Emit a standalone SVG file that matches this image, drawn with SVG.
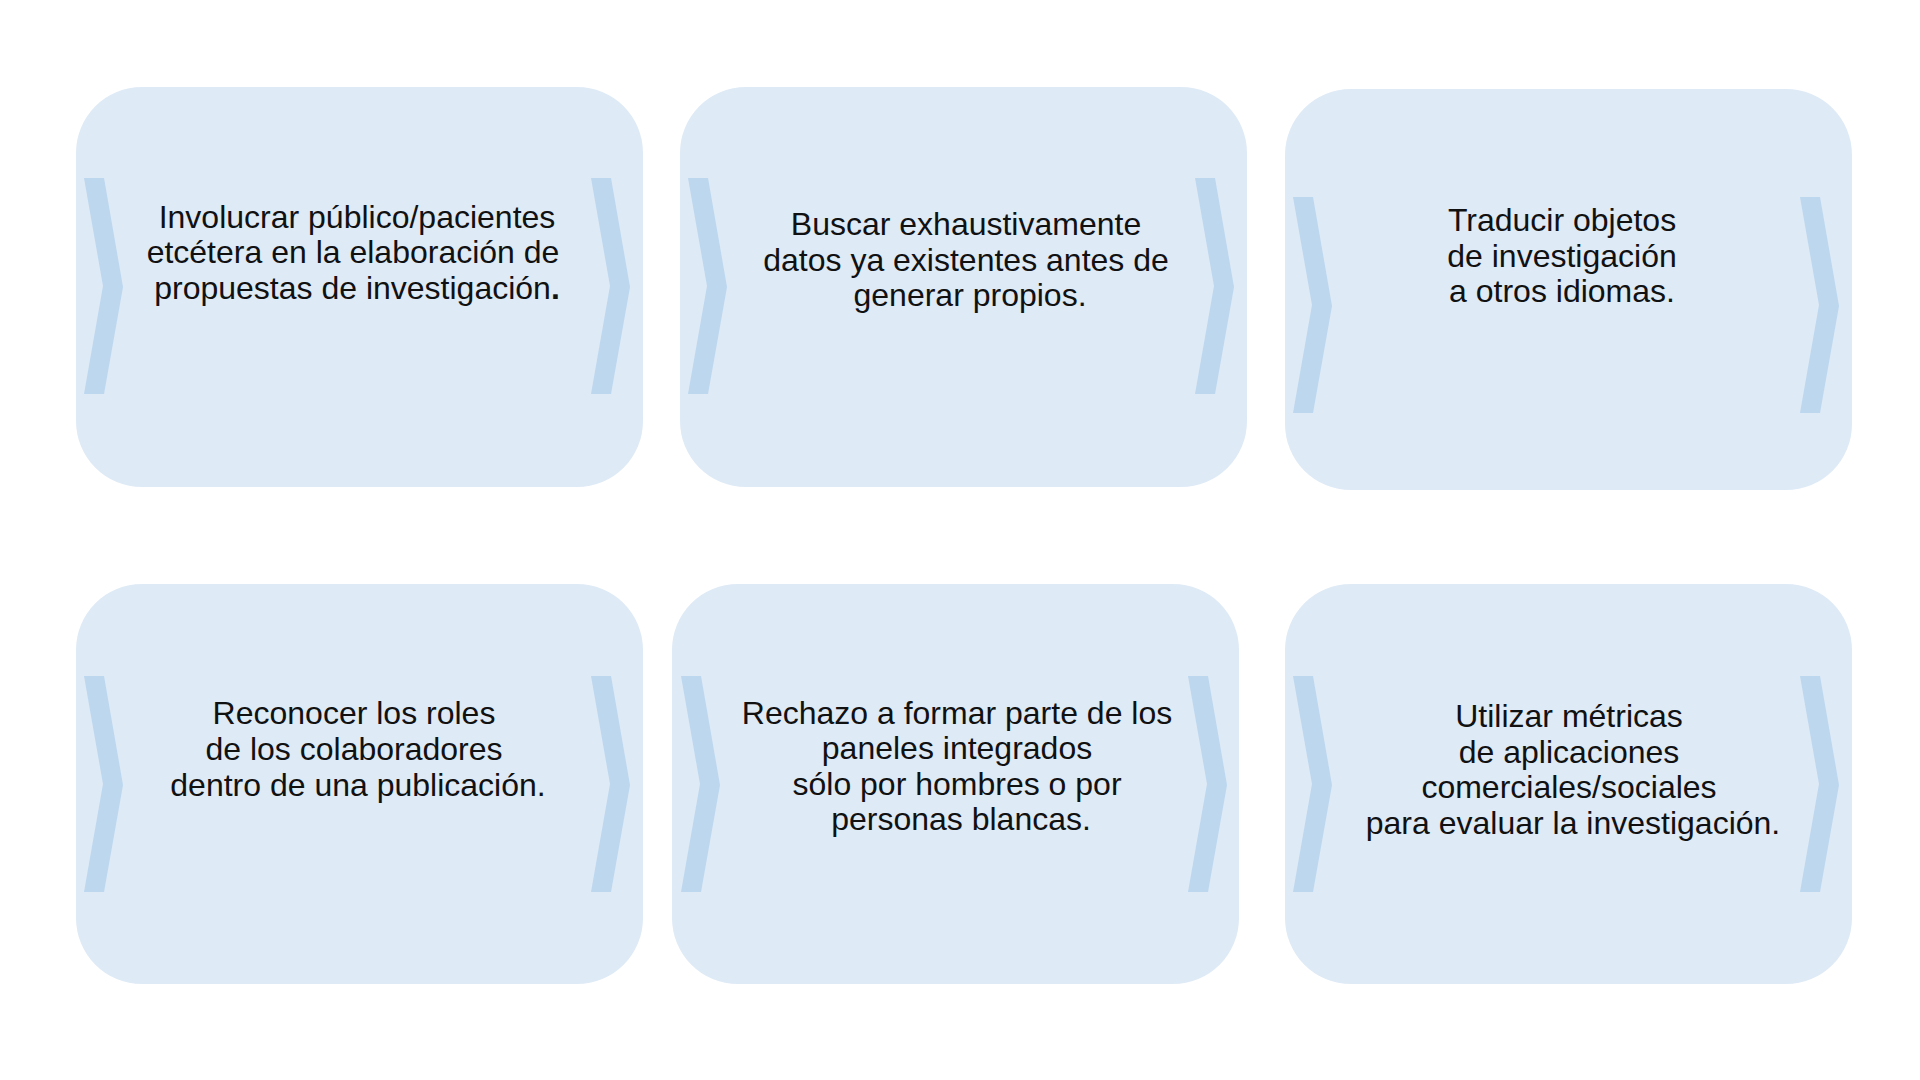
<svg xmlns="http://www.w3.org/2000/svg" xmlns:xlink="http://www.w3.org/1999/xlink" width="1920" height="1080" viewBox="0 0 1920 1080">
<style>
.box{fill:#DEEAF6;}
.chev{fill:#BDD7EE;}
.t{font-family:"Liberation Sans",Arial,sans-serif;font-size:32px;fill:#111111;text-anchor:middle;}
</style>
<defs>
<polygon id="chev" class="chev" points="0,0 20,0 39,109 20,216 0,216 19,108"/>
</defs>
<rect width="1920" height="1080" fill="#FFFFFF"/>
<g id="node1">
<rect class="box" x="76" y="87" width="567" height="400" rx="66" ry="66"/>
<use xlink:href="#chev" x="84" y="178"/>
<use xlink:href="#chev" x="591" y="178"/>
<text class="t" x="357" y="228">Involucrar público/pacientes</text>
<text class="t" x="353" y="263">etcétera en la elaboración de</text>
<text class="t" x="357" y="299">propuestas de investigación<tspan font-weight="bold">.</tspan></text>
</g>
<g id="node2">
<rect class="box" x="680" y="87" width="567" height="400" rx="66" ry="66"/>
<use xlink:href="#chev" x="688" y="178"/>
<use xlink:href="#chev" x="1195" y="178"/>
<text class="t" x="966" y="235">Buscar exhaustivamente</text>
<text class="t" x="966" y="271">datos ya existentes antes de</text>
<text class="t" x="970" y="306">generar propios.</text>
</g>
<g id="node3">
<rect class="box" x="1285" y="89" width="567" height="401" rx="66" ry="66"/>
<use xlink:href="#chev" x="1293" y="197"/>
<use xlink:href="#chev" x="1800" y="197"/>
<text class="t" x="1562" y="231">Traducir objetos</text>
<text class="t" x="1562" y="267">de investigación</text>
<text class="t" x="1562" y="302">a otros idiomas.</text>
</g>
<g id="node4">
<rect class="box" x="76" y="584" width="567" height="400" rx="66" ry="66"/>
<use xlink:href="#chev" x="84" y="676"/>
<use xlink:href="#chev" x="591" y="676"/>
<text class="t" x="354" y="724">Reconocer los roles</text>
<text class="t" x="354" y="760">de los colaboradores</text>
<text class="t" x="358" y="796">dentro de una publicación.</text>
</g>
<g id="node5">
<rect class="box" x="672" y="584" width="567" height="400" rx="66" ry="66"/>
<use xlink:href="#chev" x="681" y="676"/>
<use xlink:href="#chev" x="1188" y="676"/>
<text class="t" x="957" y="724">Rechazo a formar parte de los</text>
<text class="t" x="957" y="759">paneles integrados</text>
<text class="t" x="957" y="795">sólo por hombres o por</text>
<text class="t" x="961" y="830">personas blancas.</text>
</g>
<g id="node6">
<rect class="box" x="1285" y="584" width="567" height="400" rx="66" ry="66"/>
<use xlink:href="#chev" x="1293" y="676"/>
<use xlink:href="#chev" x="1800" y="676"/>
<text class="t" x="1569" y="727">Utilizar métricas</text>
<text class="t" x="1569" y="763">de aplicaciones</text>
<text class="t" x="1569" y="798">comerciales/sociales</text>
<text class="t" x="1573" y="834">para evaluar la investigación.</text>
</g>
<g id="connectors"></g>
</svg>
